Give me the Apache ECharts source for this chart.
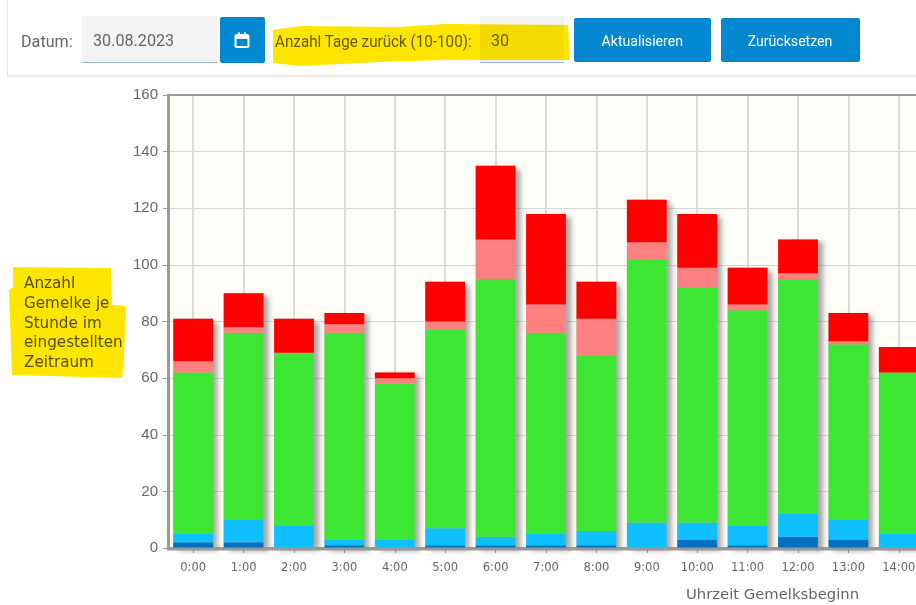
<!DOCTYPE html>
<html><head><meta charset="utf-8">
<style>
html,body{margin:0;padding:0;background:#fff;width:916px;height:605px;overflow:hidden}
#chart{position:absolute;left:0;top:0;width:916px;height:605px}
.ui{position:absolute;font-family:"Roboto",sans-serif;white-space:nowrap}
.panel{left:7px;top:-5px;width:920px;height:81px;border:1px solid #e6e6e6;box-shadow:0 1px 1px #eee;box-sizing:border-box}
.lbl{font-size:17px;color:#666;line-height:20px;transform-origin:left center;transform:scaleX(.95)}
.inp{background:#f3f3f3;border-bottom:1px solid #9fb6c4;box-sizing:border-box}
.btn{background:#0288d1;color:#fff;border-radius:2px;text-align:center}
.btn span{display:inline-block;font-size:15px;transform:scaleX(.94)}
#hl{position:absolute;left:0;top:0;mix-blend-mode:multiply;z-index:5}
.note{left:24px;top:274px;font-family:"DejaVu Sans",sans-serif;font-size:15.2px;line-height:19.8px;color:#555;white-space:pre}
</style></head><body>
<div id="chart"></div>
<div class="ui panel"></div>
<div class="ui lbl" style="left:21px;top:31px">Datum:</div>
<div class="ui inp" style="left:82px;top:16px;width:136px;height:47px"></div>
<div class="ui lbl" style="left:93px;top:30px">30.08.2023</div>
<div class="ui btn" style="left:220px;top:17px;width:45px;height:46px">
<svg width="45" height="46" viewBox="0 0 45 46"><rect x="15.5" y="18" width="13" height="12" rx="1.5" fill="none" stroke="#fff" stroke-width="2"/><rect x="15.5" y="18" width="13" height="4" fill="#fff"/><rect x="18" y="15.5" width="2" height="3" fill="#fff"/><rect x="24" y="15.5" width="2" height="3" fill="#fff"/></svg></div>
<div class="ui lbl" style="left:275px;top:31px;font-size:17px;transform:scaleX(.895)">Anzahl Tage zurück (10-100):</div>
<div class="ui inp" style="left:480px;top:16px;width:84px;height:47px"></div>
<div class="ui lbl" style="left:491px;top:30px">30</div>
<div class="ui btn" style="left:574px;top:18px;width:137px;height:44px;line-height:46px"><span>Aktualisieren</span></div>
<div class="ui btn" style="left:721px;top:18px;width:139px;height:44px;line-height:46px"><span>Zurücksetzen</span></div>
<div class="ui note">Anzahl
Gemelke je
Stunde im
eingestellten
Zeitraum</div>
<svg id="hl" width="916" height="605"><g fill="#ffe600">
<path d="M273 30 L300 26 L400 27 L445 24 L568 25 L570 60 L445 60 L380 62 L300 66 L273 63Z"/>
<path d="M13 267 L111 268 L112 305 L126 306 L124 360 L122 378 L12 375 L9 290 L13 287Z"/></g></svg>
<script src="https://cdn.jsdelivr.net/npm/echarts@6/dist/echarts.min.js"></script>
<script>
const categories=["0:00","1:00","2:00","3:00","4:00","5:00","6:00","7:00","8:00","9:00","10:00","11:00","12:00","13:00","14:00"];
const darkBlue=[2,2,0,1,0,1,1,1,1,0,3,1,4,3,0];
const lightBlue=[3,8,8,2,3,6,3,4,5,9,6,7,8,7,5];
const green=[57,66,61,73,55,70,91,71,62,93,83,76,83,62,57];
const pink=[4,2,0,3,2,3,14,10,13,6,7,2,2,1,0];
const red=[15,12,12,4,2,14,26,32,13,15,19,13,12,10,9];
const totals=categories.map((_,i)=>darkBlue[i]+lightBlue[i]+green[i]+pink[i]+red[i]);
const mk=(name,data,color)=>({name,type:'bar',stack:'a',data,barWidth:'79%',barGap:'-100%',z:3,
 itemStyle:{color},emphasis:{disabled:true}});
const chart=echarts.init(document.getElementById('chart'),null,{renderer:'canvas'});
chart.setOption({animation:false,
 grid:{left:168,top:95,width:756,height:453,outerBoundsMode:'none',show:true,backgroundColor:'#fffdf8',borderWidth:0},
 xAxis:{type:'category',data:categories,boundaryGap:true,
  axisLine:{show:true,lineStyle:{color:'#999',width:3}},
  axisTick:{show:true,alignWithLabel:true,length:5,lineStyle:{color:'#999',width:1}},
  splitLine:{show:true,alignWithLabel:true,lineStyle:{color:'#dedcd8',width:2}},
  axisLabel:{interval:0,color:'#666',fontFamily:'"DejaVu Sans"',fontSize:11.5,margin:14}},
 yAxis:{type:'value',min:0,max:160,interval:20,
  axisLine:{show:true,lineStyle:{color:'#999',width:3}},
  axisTick:{show:true,length:5,lineStyle:{color:'#999',width:1}},
  splitLine:{show:true,lineStyle:{color:'#d8d6d2',width:1}},
  axisLabel:{color:'#666',fontFamily:'"Liberation Sans"',fontSize:15,margin:10}},
 graphic:[
  {type:'line',shape:{x1:167,y1:95,x2:916,y2:95},style:{stroke:'#999',lineWidth:2},z:10},
  {type:'line',shape:{x1:167,y1:549,x2:916,y2:549},style:{stroke:'#999',lineWidth:3},z:10},
  {type:'text',left:686,top:588,style:{text:'Uhrzeit Gemelksbeginn',fill:'#666',font:'14.8px "DejaVu Sans"'},z:10}
 ],
 series:[
  {name:'shadow',type:'bar',data:totals,barWidth:'79%',barGap:'-100%',z:2,
   itemStyle:{color:'#bbb',shadowColor:'rgba(110,110,110,.6)',shadowBlur:5,shadowOffsetX:5,shadowOffsetY:3},emphasis:{disabled:true}},
  mk('a',darkBlue,'#0070c0'),mk('b',lightBlue,'#10bfff'),mk('c',green,'#3de632'),mk('d',pink,'#ff8080'),mk('e',red,'#ff0000')]
});
</script>
</body></html>
